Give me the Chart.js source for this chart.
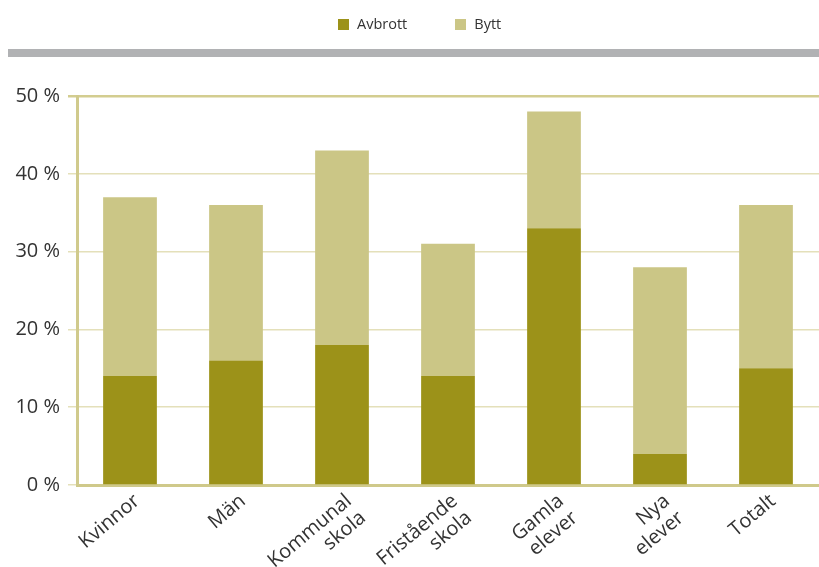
<!DOCTYPE html>
<html lang="sv">
<head>
<meta charset="UTF-8">
<title>Avbrott och bytt</title>
<script src="https://cdn.jsdelivr.net/npm/chart.js"></script>
<style>
  body { margin: 0; background: #fff; font-family: "Open Sans", sans-serif; }
  .wrap { position: relative; width: 819px; height: 567px; }
  #legend { position: absolute; top: 14px; left: 338px; display: flex; font-size: 14.5px; line-height: 20px; color: #333; }
  .item { display: flex; align-items: center; margin-right: 48px; }
  .box { width: 11px; height: 11px; margin-right: 8px; }
  .band { position: absolute; left: 8px; right: 0; top: 49px; height: 8px; background: #b1b2b4; }
</style>
</head>
<body>
<div class="wrap">
  <canvas id="chart" width="819" height="567"></canvas>
  <div id="legend"></div>
  <div class="band"></div>
</div>
<script>
// categories (multi-line labels)
const categories = [
  ['Kvinnor'], ['Män'], ['Kommunal', 'skola'], ['Fristående', 'skola'],
  ['Gamla', 'elever'], ['Nya', 'elever'], ['Totalt']
];
// percent values
const avbrott = [14, 16, 18, 14, 33, 4, 15];
const bytt = [23, 20, 25, 17, 15, 24, 21];
const yTicks = [0, 10, 20, 30, 40, 50];

const darkOlive = '#9c9219';
const lightOlive = '#cbc686';
const textColor = '#333333';

const ctx = document.getElementById('chart').getContext('2d');
const chart = new Chart(ctx, {
  type: 'bar',
  data: {
    labels: categories,
    datasets: [
      { label: 'Avbrott', data: avbrott, backgroundColor: darkOlive, borderWidth: 0 },
      { label: 'Bytt', data: bytt, backgroundColor: lightOlive, borderWidth: 0 }
    ]
  },
  options: {
    responsive: false,
    animation: false,
    events: [],
    layout: { padding: { top: 96, right: -3, left: 0, bottom: 0 } },
    datasets: { bar: { categoryPercentage: 1, barPercentage: 0.507 } },
    plugins: { legend: { display: false }, tooltip: { enabled: false } },
    scales: {
      x: {
        stacked: true,
        grid: { display: false, drawTicks: false },
        border: { display: true, color: '#cfc98a', width: 3 },
        ticks: {
          color: textColor,
          font: { family: 'Open Sans', size: 20, lineHeight: 1.1 },
          minRotation: 40, maxRotation: 40, autoSkip: false,
          padding: 5, labelOffset: 7
        },
        afterFit: function (scale) { scale.height = 82; }
      },
      y: {
        stacked: true,
        min: 0, max: 50,
        afterBuildTicks: function (scale) { scale.ticks = yTicks.map(v => ({ value: v })); },
        grid: {
          color: c => c.tick && c.tick.value === 50 ? '#d3cd90' : '#e4e0ba',
          lineWidth: c => c.tick && c.tick.value === 50 ? 2.5 : 1.5,
          drawTicks: true, tickLength: 9
        },
        border: { display: true, color: '#d0ca8c', width: 3 },
        ticks: {
          color: textColor,
          font: { family: 'Open Sans', size: 20 },
          padding: 8,
          callback: v => v + ' %'
        },
        afterFit: function (scale) { scale.width = 77; }
      }
    }
  }
});

// HTML legend built from the chart's datasets
const legendEl = document.getElementById('legend');
chart.data.datasets.forEach(ds => {
  const item = document.createElement('div');
  item.className = 'item';
  const box = document.createElement('span');
  box.className = 'box';
  box.style.background = ds.backgroundColor;
  const txt = document.createElement('span');
  txt.textContent = ds.label;
  item.appendChild(box);
  item.appendChild(txt);
  legendEl.appendChild(item);
});
</script>
</body>
</html>
